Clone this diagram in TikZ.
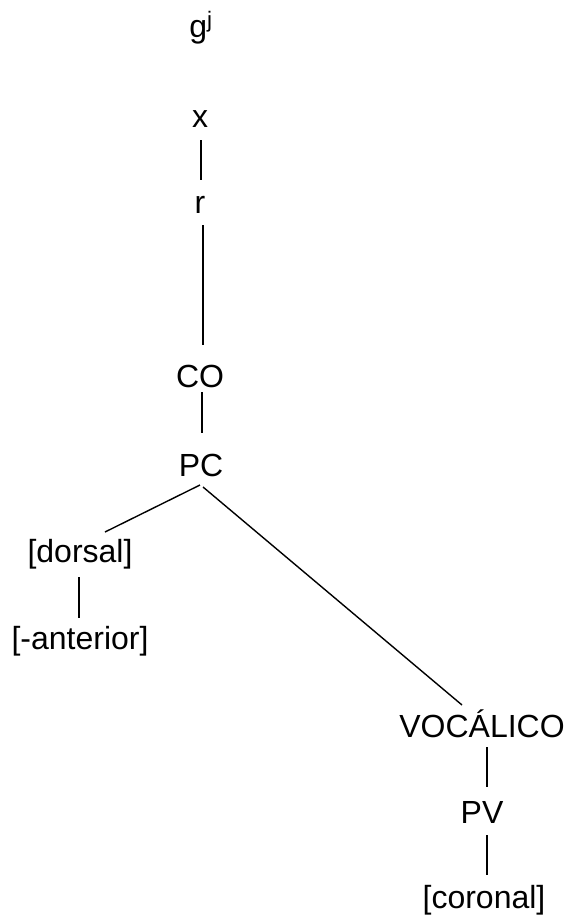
\documentclass[tikz,border=0pt]{standalone}
\usepackage{fontspec}
\setmainfont{Liberation Sans}
\usetikzlibrary{calc}
\tikzset{
  lbl/.style={anchor=base, inner sep=0pt, font=\fontsize{32}{38}\selectfont},
  edge/.style={line width=1.4pt, black}
}
\begin{document}
\begin{tikzpicture}[x=1pt,y=-1pt]
\useasboundingbox (0,0) rectangle (568,918);
\node[lbl] (gj) at (201,37) {g\textsuperscript{j}};
\node[lbl] (x) at (200,127) {x};
\node[lbl] (r) at (200,213) {r};
\node[lbl] (co) at (200,387) {CO};
\node[lbl] (pc) at (201,476) {PC};
\node[lbl] (dorsal) at (80,562) {[dorsal]};
\node[lbl] (anterior) at (80,649) {[-anterior]};
\node[lbl] (voc) at (482,737) {VOCÁLICO};
\node[lbl] (pv) at (482,823) {PV};
\node[lbl] (coronal) at (484,908) {[coronal]};
\draw[edge] ($(x.base)+(1,13)$) -- ($(r.base)+(1,-33)$);
\draw[edge] ($(r.base)+(3,12)$) -- ($(co.base)+(3,-42)$);
\draw[edge] ($(co.base)+(2,5)$) -- ($(pc.base)+(1,-43)$);
\draw[edge] ($(pc.base)+(-1,9)$) -- ($(dorsal.base)+(25,-30)$);
\draw[edge] ($(pc.base)+(2,11)$) -- ($(voc.base)+(-20,-32)$);
\draw[edge] ($(dorsal.base)+(-1,15)$) -- ($(anterior.base)+(-1,-31)$);
\draw[edge] ($(voc.base)+(5,10)$) -- ($(pv.base)+(5,-36)$);
\draw[edge] ($(pv.base)+(5,12)$) -- ($(coronal.base)+(3,-33)$);
\end{tikzpicture}
\end{document}
